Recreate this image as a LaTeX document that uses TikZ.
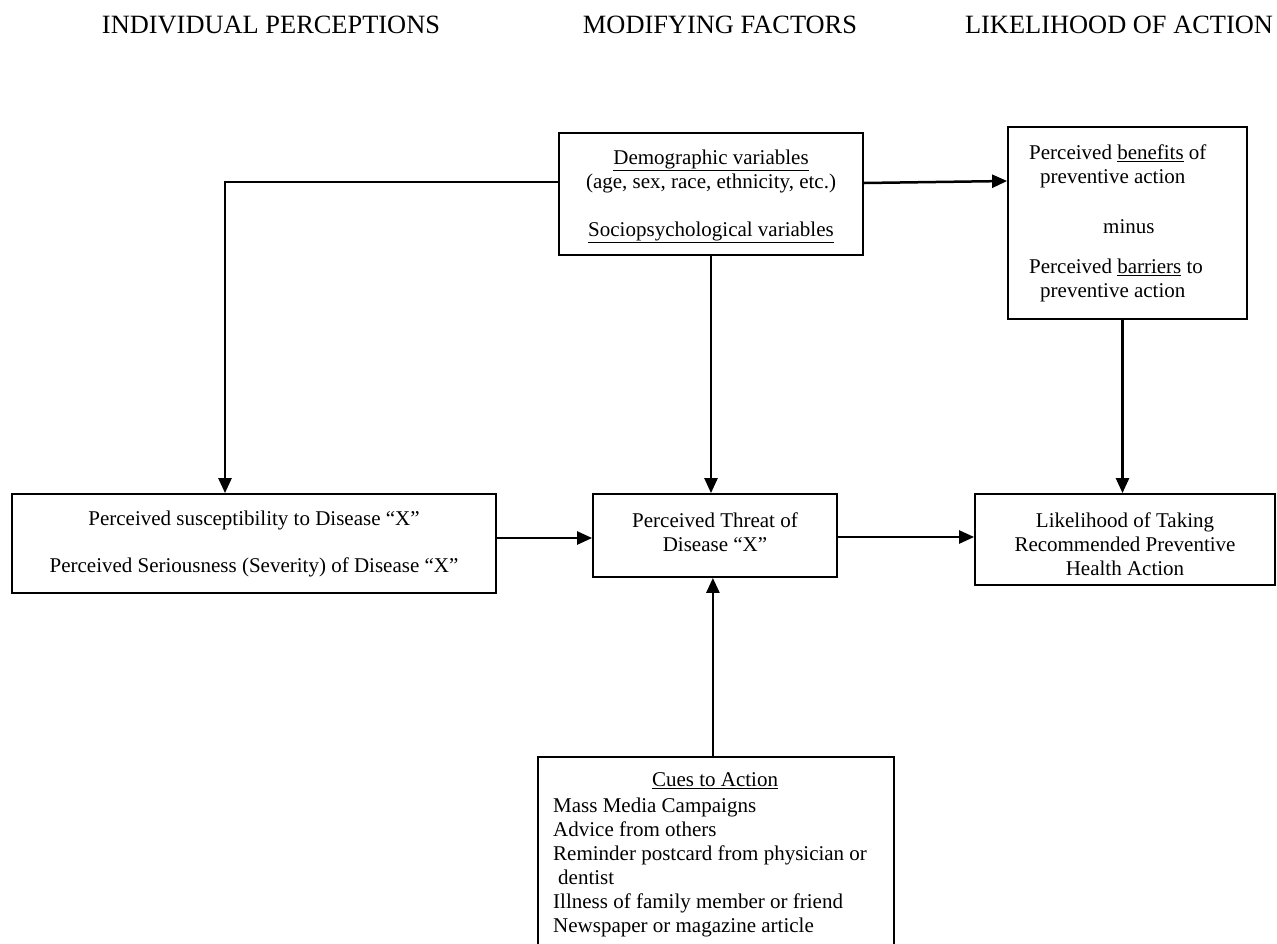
\documentclass[tikz,border=0pt]{standalone}
\usepackage{fontspec}
\setmainfont{Liberation Serif}
\usetikzlibrary{arrows.meta}
\newcommand{\bodyfnt}{\fontsize{21}{24}\selectfont}
\newcommand{\headfnt}{\fontsize{26.4}{30}\selectfont}
\begin{document}
\begin{tikzpicture}[x=1pt,y=-1pt,
  box/.style={draw,line width=1.8pt,rectangle,inner sep=0pt,align=center,font=\bodyfnt},
  plain/.style={inner sep=0pt,font=\bodyfnt},
  ctext/.style={inner sep=0pt,font=\bodyfnt,align=center,anchor=north},
  head/.style={inner sep=0pt,font=\headfnt,anchor=base},
  arr/.style={line width=2.5pt,-{Triangle[length=15pt,width=13pt]}},
  ]
\useasboundingbox (0,0) rectangle (1277,943);
% headers
\node[head] (h1) at (271,33) {INDIVIDUAL PERCEPTIONS};
\node[head] (h2) at (720,33) {MODIFYING FACTORS};
\node[head] (h3) at (1119,33) {LIKELIHOOD OF ACTION};
% boxes
\node[box,minimum width=304pt,minimum height=122pt] (demo) at (711,194) {};
\node[ctext] (demot) at (711,147.5)
  {\strut\underline{Demographic variables}\\(age, sex, race, ethnicity, etc.)\\[24pt]\underline{Sociopsychological variables}};
\node[box,minimum width=239pt,minimum height=192pt] (ben) at (1127.5,223) {};
\node[plain,align=left,anchor=north west] (bent) at (1029,142.2)
  {\strut Perceived \underline{benefits} of\\\hspace*{11pt}preventive action\\[26pt]\hspace*{74pt}minus\\[16pt]Perceived \underline{barriers} to\\\hspace*{11pt}preventive action};
\node[box,minimum width=484pt,minimum height=99pt] (sus) at (254,543.5)
  {Perceived susceptibility to Disease “X”\\[23pt]Perceived Seriousness (Severity) of Disease “X”};
\node[box,minimum width=244pt,minimum height=83pt] (thr) at (715,535.5) {};
\node[ctext] (thrt) at (715,510.5) {\strut Perceived Threat of\\Disease “X”};
\node[box,minimum width=300pt,minimum height=91pt] (lik) at (1125,539.5) {};
\node[ctext] (likt) at (1125,510.5)
  {\strut Likelihood of Taking\\Recommended Preventive\\Health Action};
\node[box,minimum width=356pt,minimum height=230pt,anchor=north west] (cues) at (537,756) {};
\node[plain] (cuest) at (715,781) {\underline{Cues to Action}};
\node[plain,align=left,anchor=north west] (cuesl) at (553,795)
  {\strut Mass Media Campaigns\\Advice from others\\Reminder postcard from physician or\\\hspace*{5pt}dentist\\Illness of family member or friend\\Newspaper or magazine article};
% connectors
\draw[arr] ([yshift=12pt]demo.west) -| ([xshift=-29pt]sus.north);
\draw[arr] ([yshift=11pt]demo.east) -- ([yshift=42pt]ben.west);
\draw[arr] (demo.south) -- (demo.south |- thr.north);
\draw[arr] ([xshift=-5pt]ben.south) -- ([xshift=-5pt]ben.south |- lik.north);
\draw[arr] ([yshift=5.5pt]sus.east) -- ([yshift=5.5pt]sus.east -| thr.west);
\draw[arr] ([yshift=-1.5pt]thr.east) -- ([yshift=-1.5pt]thr.east -| lik.west);
\draw[arr] ([xshift=-3pt]cues.north) -- ([xshift=-3pt]cues.north |- thr.south);
\end{tikzpicture}
\end{document}
